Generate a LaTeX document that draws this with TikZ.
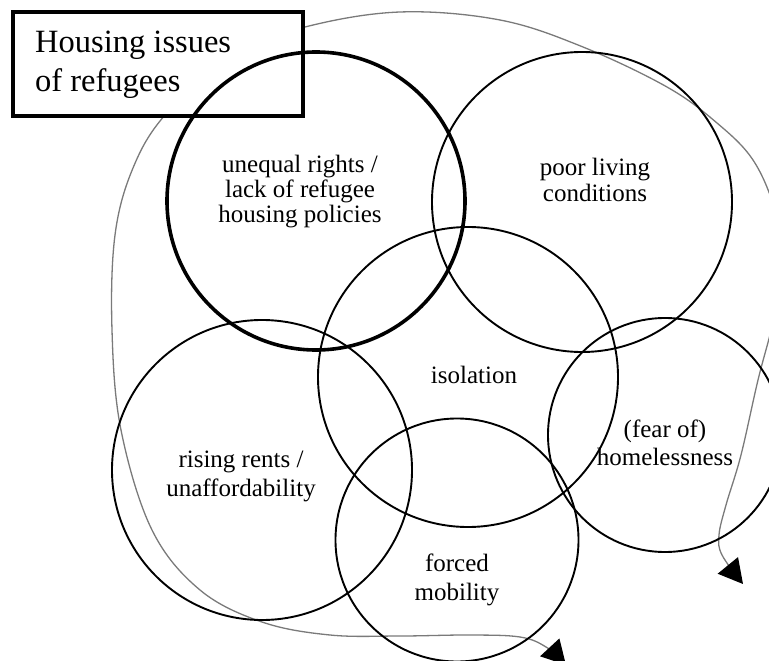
\documentclass[tikz,border=0pt]{standalone}
\usepackage{fontspec}
\setmainfont{Liberation Serif}
\usetikzlibrary{arrows.meta}
\begin{document}
\begin{tikzpicture}[x=1pt,y=-1pt,
  ring/.style={draw=black, circle, line width=1.9pt, inner sep=0pt, minimum size=#1},
  boldring/.style={ring=#1, line width=3.6pt},
  lbl/.style={align=center, inner sep=0pt, font=\fontsize{25}{28}\selectfont},
  loopline/.style={draw=black!52, line width=1.3pt},
  bigtip/.tip={Triangle[length=24pt,width=26pt,color=black]}
]
\useasboundingbox (0,0) rectangle (769,661);

% grey loop connecting the issues, open at both ends
\coordinate (endA) at (566,665);
\coordinate (endB) at (743,584);
\draw[loopline, {bigtip}-{bigtip}] plot[smooth, tension=0.6] coordinates {
  (endA) (546,647) (520,637) (470,635) (400,636) (330,635) (262,622)
  (200,590) (152,530) (121,430) (112,330) (115,235) (133,168) (165,115)
  (230,55) (305,27) (400,12) (500,20) (583,47) (667,87) (717,123)
  (753,160) (775,210) (783,260) (774,318) (758,380) (741,455) (726,505)
  (719,535) (722,555) (endB)};

% title box
\node[draw=black, fill=white, line width=3.5pt, minimum width=290pt,
      minimum height=104pt, inner sep=0pt] (box) at (158,64) {};
\node[anchor=west, align=left, inner sep=0pt,
      font=\fontsize{32.5}{39}\selectfont] (title) at (35,65)
  {Housing issues\\of refugees};

% issue circles
\node[boldring=298pt] (cRights) at (316,201) {};
\node[ring=300pt] (cLiving) at (582,202) {};
\node[ring=300pt] (cIsolation) at (468,377) {};
\node[ring=300pt] (cRents) at (262,470) {};
\node[ring=234pt] (cHomeless) at (665,435) {};
\node[ring=243pt] (cMobility) at (457,540) {};

% labels
\node[lbl, font=\fontsize{25}{25}\selectfont] (tRights) at (300,192)
  {unequal rights /\\lack of refugee\\housing policies};
\node[lbl, font=\fontsize{25}{26}\selectfont] (tLiving) at (595,180)
  {poor living\\conditions};
\node[lbl] (tIsolation) at (474,375) {isolation};
\node[lbl, font=\fontsize{25}{29}\selectfont] (tRents) at (241,476)
  {rising rents /\\unaffordability};
\node[lbl] (tHomeless) at (665,443) {(fear of)\\homelessness};
\node[lbl, font=\fontsize{25}{29}\selectfont] (tMobility) at (457,580)
  {forced\\mobility};
\end{tikzpicture}
\end{document}
